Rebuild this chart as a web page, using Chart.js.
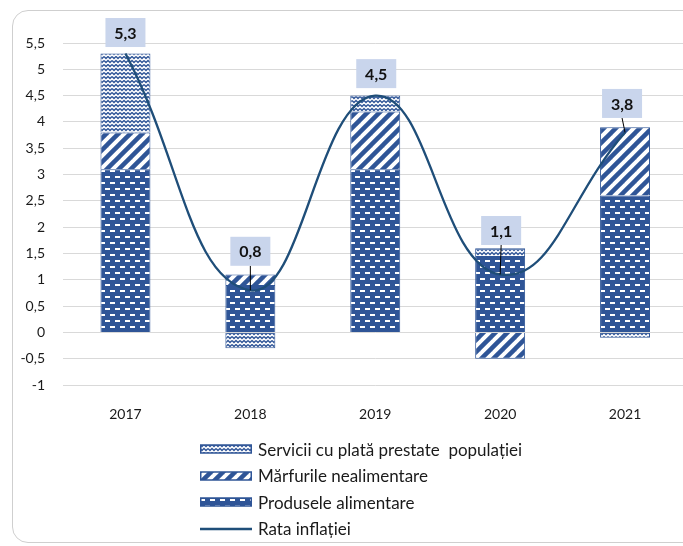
<!DOCTYPE html>
<html>
<head>
<meta charset="utf-8">
<script src="https://cdn.jsdelivr.net/npm/chart.js@4.4.1/dist/chart.umd.min.js"></script>
<style>
  html, body { margin: 0; padding: 0; background: #fff; overflow: hidden; width: 683px; height: 546px; }
  #wrap { position: relative; width: 683px; height: 546px; overflow: hidden; }
  #frame { position: absolute; left: 12px; top: 10px; width: 700px; height: 533px; border: 1px solid #cfcfcf; border-radius: 16px; box-sizing: border-box; }
  #cv { position: absolute; left: 0; top: 0; }
  #legend { position: absolute; left: 200px; top: 436px; font-family: Lato, "Open Sans", sans-serif; font-size: 17px; color: #1a1a1a; }
  .row { display: flex; align-items: center; height: 26.5px; white-space: pre; }
  .row canvas { margin-right: 6px; display: block; }
</style>
</head>
<body>
<div id="wrap">
  <div id="frame"></div>
  <canvas id="cv" width="700" height="546" style="width:700px;height:546px"></canvas>
  <div id="legend"></div>
</div>
<script>
// ---- data ----
const categories = ['2017', '2018', '2019', '2020', '2021'];
const seriesNames = ['Produsele alimentare', 'Mărfurile nealimentare', 'Servicii cu plată prestate  populației', 'Rata inflației'];
const food = [3.1, 0.9, 3.1, 1.45, 2.6];
const nonFood = [0.7, 0.2, 1.1, -0.5, 1.3];
const services = [1.5, -0.3, 0.3, 0.15, -0.1];
const inflation = [5.3, 0.8, 4.5, 1.1, 3.8];
const yMin = -1, yMax = 5.5, yStep = 0.5;

// ---- label placement (pixel offsets from point) ----
const labelOffsets = [[0, -21], [0, -39], [1, -22], [1, -44], [-3, -29]];

const BLUE = '#2F5597';
const LINE = '#1F4E79';

function makeTile(w, h, draw) {
  const c = document.createElement('canvas');
  c.width = w; c.height = h;
  const g = c.getContext('2d');
  draw(g, w, h);
  return c;
}
const foodTile = makeTile(10, 12, (g, w, h) => {
  g.fillStyle = BLUE; g.fillRect(0, 0, w, h);
  g.fillStyle = '#fff';
  g.fillRect(0, 2, 5, 2);
  g.fillRect(5, 8, 5, 2);
});
const stripeTile = makeTile(12, 12, (g, w, h) => {
  g.fillStyle = '#fff'; g.fillRect(0, 0, w, h);
  g.strokeStyle = BLUE; g.lineWidth = 4.5;
  for (const o of [-12, 0, 12]) {
    g.beginPath(); g.moveTo(o - 2, h + 2); g.lineTo(o + w + 2, -2); g.stroke();
  }
});
const servTile = makeTile(8, 8, (g, w, h) => {
  g.fillStyle = '#fff'; g.fillRect(0, 0, w, h);
  g.strokeStyle = BLUE; g.lineWidth = 1.4;
  g.beginPath();
  g.moveTo(0, 0.5); g.lineTo(2, 2.5); g.lineTo(4, 0.5); g.lineTo(6, 2.5); g.lineTo(8, 0.5);
  g.moveTo(0, 4.5); g.lineTo(2, 6.5); g.lineTo(4, 4.5); g.lineTo(6, 6.5); g.lineTo(8, 4.5);
  g.stroke();
});
const ctxTmp = document.createElement('canvas').getContext('2d');
const foodPat = ctxTmp.createPattern(foodTile, 'repeat');
const stripePat = ctxTmp.createPattern(stripeTile, 'repeat');
const servPat = ctxTmp.createPattern(servTile, 'repeat');

const fmt = v => String(v).replace('.', ',');

const labelPlugin = {
  id: 'boxLabels',
  afterDatasetsDraw(chart) {
    const meta = chart.getDatasetMeta(0);
    const g = chart.ctx;
    g.save();
    meta.data.forEach((pt, i) => {
      const [dx, dy] = labelOffsets[i];
      const cx = pt.x + dx, cy = pt.y + dy;
      const bw = 40, bh = 29;
      const top = cy - bh / 2, bottom = cy + bh / 2;
      if (pt.y - bottom > 10) {
        g.strokeStyle = '#000'; g.lineWidth = 1;
        g.beginPath(); g.moveTo(cx, bottom); g.lineTo(pt.x, pt.y); g.stroke();
      }
      g.fillStyle = '#C9D5EC';
      g.fillRect(cx - bw / 2, top, bw, bh);
      g.fillStyle = '#111';
      g.font = 'bold 16px Lato, "Open Sans", sans-serif';
      g.textAlign = 'center'; g.textBaseline = 'middle';
      g.fillText(fmt(inflation[i]), cx, cy + 1);
    });
    g.restore();
  }
};

const chart = new Chart(document.getElementById('cv'), {
  data: {
    labels: categories,
    datasets: [
      { type: 'line', label: seriesNames[3], data: inflation, borderColor: LINE, borderWidth: 2.3,
        pointRadius: 0, tension: 0.45, stack: 'inf', order: 0, fill: false },
      { type: 'bar', label: seriesNames[0], data: food, backgroundColor: foodPat, borderColor: BLUE, borderWidth: 1, stack: 's', order: 1 },
      { type: 'bar', label: seriesNames[1], data: nonFood, backgroundColor: stripePat, borderColor: BLUE, borderWidth: 1, stack: 's', order: 1 },
      { type: 'bar', label: seriesNames[2], data: services, backgroundColor: servPat, borderColor: BLUE, borderWidth: 1, stack: 's', order: 1 }
    ]
  },
  options: {
    responsive: false,
    animation: false,
    layout: { padding: { left: 13, right: 12.5, top: 43, bottom: 116 } },
    datasets: { bar: { barPercentage: 0.4, categoryPercentage: 1 } },
    plugins: { legend: { display: false }, tooltip: { enabled: false } },
    scales: {
      x: {
        stacked: true, offset: true,
        grid: { display: false }, border: { display: false },
        ticks: { color: '#1a1a1a', font: { family: 'Lato, "Open Sans", sans-serif', size: 14 }, padding: 13 },
        afterFit(s) { s.height = 45; }
      },
      y: {
        stacked: true, min: yMin, max: yMax,
        grid: { color: '#d9d9d9', lineWidth: 1, drawTicks: false },
        border: { display: false },
        ticks: { stepSize: yStep, padding: 18, color: '#1a1a1a',
          font: { family: 'Lato, "Open Sans", sans-serif', size: 14 },
          callback: v => fmt(Math.round(v * 10) / 10) },
        afterFit(s) { s.width = 50; }
      }
    }
  },
  plugins: [labelPlugin]
});

// ---- legend (HTML) ----
const legend = document.getElementById('legend');
const legendOrder = [3, 2, 1, 0];
legendOrder.forEach(di => {
  const ds = chart.data.datasets[di];
  const row = document.createElement('div');
  row.className = 'row';
  const sw = document.createElement('canvas');
  sw.width = 52; sw.height = 10;
  const g = sw.getContext('2d');
  if (ds.type === 'line') {
    g.strokeStyle = ds.borderColor; g.lineWidth = 2.3;
    g.beginPath(); g.moveTo(0, 5); g.lineTo(52, 5); g.stroke();
  } else {
    g.fillStyle = ds.backgroundColor; g.fillRect(0, 1, 52, 8);
    g.strokeStyle = BLUE; g.lineWidth = 1.5; g.strokeRect(0.75, 1, 50.5, 8);
  }
  row.appendChild(sw);
  const t = document.createElement('span');
  t.textContent = ds.label;
  row.appendChild(t);
  legend.appendChild(row);
});
</script>
</body>
</html>
